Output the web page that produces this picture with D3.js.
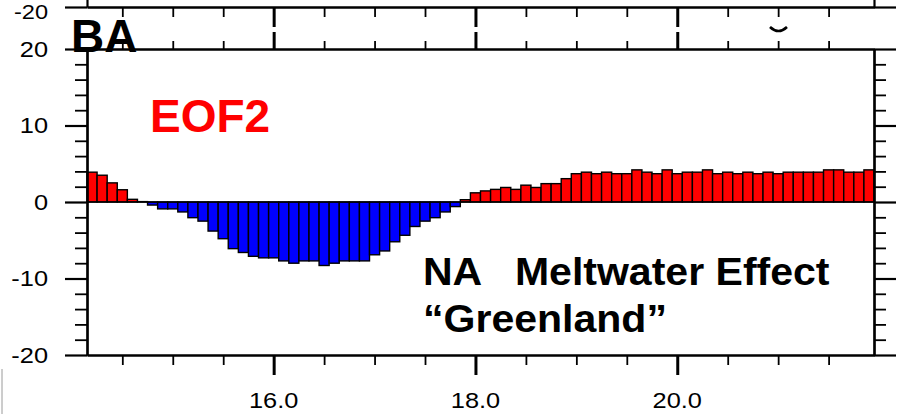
<!DOCTYPE html>
<html>
<head>
<meta charset="utf-8">
<script src="https://cdn.jsdelivr.net/npm/d3@7"></script>
<style>
  html, body { margin: 0; padding: 0; background: #fff; }
  svg { display: block; }
  text { font-family: "Liberation Sans", Arial, Helvetica, sans-serif; }
</style>
</head>
<body>
<svg id="chart" width="901" height="414"></svg>
<script>
// ---- data ----
const ages = [14.2,14.3,14.4,14.5,14.6,14.7,14.8,14.9,15.0,15.1,15.2,15.3,15.4,15.5,15.6,15.7,15.8,15.9,
  16.0,16.1,16.2,16.3,16.4,16.5,16.6,16.7,16.8,16.9,17.0,17.1,17.2,17.3,17.4,17.5,17.6,17.7,17.8,17.9,
  18.0,18.1,18.2,18.3,18.4,18.5,18.6,18.7,18.8,18.9,19.0,19.1,19.2,19.3,19.4,19.5,19.6,19.7,19.8,19.9,
  20.0,20.1,20.2,20.3,20.4,20.5,20.6,20.7,20.8,20.9,21.0,21.1,21.2,21.3,21.4,21.5,21.6,21.7,21.8,21.9];
const eof2 = [3.9,3.5,2.5,1.6,0.35,0.05,-0.4,-0.9,-0.9,-1.3,-2.05,-2.5,-3.8,-4.8,-6.1,-6.6,-7.1,-7.3,
  -7.3,-7.7,-8.0,-7.7,-7.7,-8.3,-8.0,-7.7,-7.7,-7.7,-6.9,-6.4,-5.2,-4.35,-3.2,-2.5,-2.05,-1.3,-0.6,0.3,
  1.2,1.45,1.65,1.9,1.65,2.2,1.9,2.4,2.4,3.05,3.7,3.9,3.7,3.9,3.7,3.7,4.2,3.9,3.7,4.2,
  3.7,3.9,3.9,4.2,3.7,3.9,3.7,3.9,3.7,3.9,3.7,3.9,3.9,3.9,3.9,4.2,4.2,3.9,3.9,4.2];
const xMajorTicks = [16, 18, 20];
const xMinorTicks = [14.5,15.0,15.5,16.5,17.0,17.5,18.5,19.0,19.5,20.5,21.0,21.5];
const xTickLabels = ["16.0", "18.0", "20.0"];
const yMajorTicks = [-20, -10, 0, 10, 20];
const yMinorTicks = [-18,-16,-14,-12,-8,-6,-4,-2,2,4,6,8,12,14,16,18];
const yTickLabels = ["-20", "-10", "0", "10", "20"];
const panelLabel = "BA";
const seriesLabel = "EOF2";
const noteLines = ["NA   Meltwater Effect", "\u201CGreenland\u201D"];

// ---- layout ----
const L = 87, R = 874, T = 49, B = 355;
const svg = d3.select("#chart");
const x = d3.scaleLinear().domain([14.15, 21.95]).range([L, R]);
const y = d3.scaleLinear().domain([-20, 20]).range([B, T]);
const yUp = d3.scaleLinear().domain([-20, 20]).range([7, 7 - (B - T)]);
const barHalf = 0.05;

// stray frame line bottom-left
svg.append("line").attr("x1", 2).attr("x2", 2).attr("y1", 369).attr("y2", 414)
  .attr("stroke", "#9a9a9a").attr("stroke-width", 1);

// ---- bars ----
svg.append("g").selectAll("rect").data(ages.map((a, i) => ({a, v: eof2[i]}))).join("rect")
  .attr("x", d => x(d.a - barHalf))
  .attr("width", d => x(d.a + barHalf) - x(d.a - barHalf))
  .attr("y", d => Math.min(y(d.v), y(0)))
  .attr("height", d => Math.abs(y(d.v) - y(0)))
  .attr("fill", d => d.v >= 0 ? "#ff0000" : "#0000ff")
  .attr("stroke", "#000").attr("stroke-width", 1.4);

// zero line
svg.append("line").attr("x1", L).attr("x2", R).attr("y1", y(0)).attr("y2", y(0))
  .attr("stroke", "#000").attr("stroke-width", 1.6);

function styleAxis(g, w) {
  g.selectAll("path.domain").attr("stroke", "#000").attr("stroke-width", 2.2);
  g.selectAll(".tick line").attr("stroke", "#000").attr("stroke-width", w);
  g.selectAll(".tick text").remove();
}

// ---- main panel axes ----
svg.append("g").attr("transform", `translate(${L},0)`)
  .call(d3.axisLeft(y).tickValues(yMinorTicks).tickSize(12).tickSizeOuter(0).tickFormat(""))
  .call(g => styleAxis(g, 1.8));
svg.append("g").attr("transform", `translate(${L},0)`)
  .call(d3.axisLeft(y).tickValues(yMajorTicks).tickSize(22).tickSizeOuter(0).tickFormat(""))
  .call(g => styleAxis(g, 2.2));
svg.append("g").attr("transform", `translate(${R},0)`)
  .call(d3.axisRight(y).tickValues(yMinorTicks).tickSize(12).tickSizeOuter(0).tickFormat(""))
  .call(g => styleAxis(g, 1.8));
svg.append("g").attr("transform", `translate(${R},0)`)
  .call(d3.axisRight(y).tickValues(yMajorTicks).tickSize(22).tickSizeOuter(0).tickFormat(""))
  .call(g => styleAxis(g, 2.2));
svg.append("g").attr("transform", `translate(0,${B})`)
  .call(d3.axisBottom(x).tickValues(xMinorTicks).tickSize(10).tickSizeOuter(0).tickFormat(""))
  .call(g => styleAxis(g, 1.8));
svg.append("g").attr("transform", `translate(0,${B})`)
  .call(d3.axisBottom(x).tickValues(xMajorTicks).tickSize(20).tickSizeOuter(0).tickFormat(""))
  .call(g => styleAxis(g, 3));
svg.append("g").attr("transform", `translate(0,${T})`)
  .call(d3.axisTop(x).tickValues(xMinorTicks).tickSize(8).tickSizeOuter(0).tickFormat(""))
  .call(g => styleAxis(g, 1.8));
svg.append("g").attr("transform", `translate(0,${T})`)
  .call(d3.axisTop(x).tickValues(xMajorTicks).tickSize(17).tickSizeOuter(0).tickFormat(""))
  .call(g => styleAxis(g, 3));

// ---- upper panel fragment ----
const yU0 = yUp(-20);
svg.append("g").attr("transform", `translate(0,${yU0})`)
  .call(d3.axisBottom(x).tickValues(xMinorTicks).tickSize(10).tickSizeOuter(0).tickFormat(""))
  .call(g => styleAxis(g, 1.8));
svg.append("g").attr("transform", `translate(0,${yU0})`)
  .call(d3.axisBottom(x).tickValues(xMajorTicks).tickSize(20).tickSizeOuter(0).tickFormat(""))
  .call(g => styleAxis(g, 3));
svg.append("g").attr("transform", `translate(${L},0)`)
  .call(d3.axisLeft(yUp).tickValues([-20]).tickSize(22).tickSizeOuter(0).tickFormat(""))
  .call(g => styleAxis(g, 2.2));
svg.append("g").attr("transform", `translate(${R},0)`)
  .call(d3.axisRight(yUp).tickValues([-20]).tickSize(22).tickSizeOuter(0).tickFormat(""))
  .call(g => styleAxis(g, 2.2));
svg.append("path").attr("d", "M770,27 Q778.5,35 787,27")
  .attr("fill", "none").attr("stroke", "#000").attr("stroke-width", 2.6);

// ---- tick labels ----
const tickFont = 21.5, sx = 1.18;
svg.append("g").selectAll("text").data(yMajorTicks).join("text")
  .attr("transform", d => `translate(48,${y(d) + 7.7}) scale(${sx},1)`)
  .attr("text-anchor", "end").attr("font-size", tickFont).attr("fill", "#000")
  .text((d, i) => yTickLabels[i]);
svg.append("text")
  .attr("transform", `translate(48,${yU0 + 11.5}) scale(${sx},1)`)
  .attr("text-anchor", "end").attr("font-size", 20).attr("fill", "#000")
  .text(yTickLabels[0]);
svg.append("g").selectAll("text").data(xMajorTicks).join("text")
  .attr("transform", d => `translate(${x(d)},407.5) scale(${sx},1)`)
  .attr("text-anchor", "middle").attr("font-size", tickFont).attr("fill", "#000")
  .text((d, i) => xTickLabels[i]);

// ---- annotations ----
svg.append("text").attr("x", 71).attr("y", 51.5).attr("font-size", 46).attr("font-weight", "bold")
  .attr("fill", "#000").text(panelLabel);
svg.append("text").attr("x", 150).attr("y", 132).attr("font-size", 46).attr("font-weight", "bold")
  .attr("fill", "#ff0000").text(seriesLabel);
svg.append("g").selectAll("text").data(noteLines).join("text")
  .attr("transform", (d, i) => `translate(423,${285 + i * 47}) scale(1.08,1)`)
  .attr("font-size", 38).attr("font-weight", "bold").attr("fill", "#000")
  .attr("xml:space", "preserve").style("white-space", "pre")
  .text(d => d);
</script>
</body>
</html>
